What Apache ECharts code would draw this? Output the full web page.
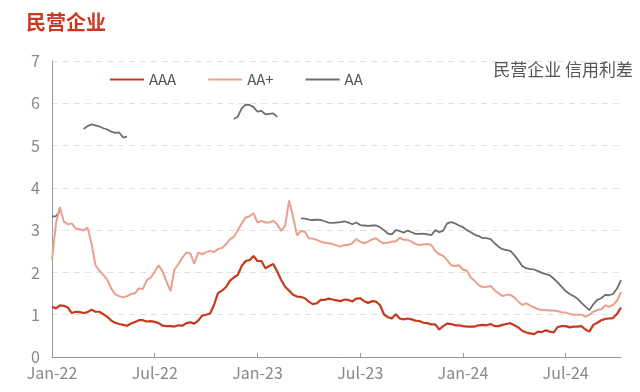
<!DOCTYPE html>
<html>
<head>
<meta charset="utf-8">
<script src="https://cdn.jsdelivr.net/npm/echarts@6/dist/echarts.min.js"></script>
<style>html,body{margin:0;padding:0;background:#fff}#c{width:640px;height:392px}</style>
</head>
<body>
<div id="c"></div>
<script>
// Weekly observations starting 2022-01-01
const startDate = '2022-01-01';
const xTickIndex = [0, 26, 52, 78, 104, 130];
const xTickLabels = ['Jan-22', 'Jul-22', 'Jan-23', 'Jul-23', 'Jan-24', 'Jul-24'];
const seriesNames = ['AAA', 'AA+', 'AA'];

const aaa = [
  1.19,1.15,1.22,1.21,1.17,1.04,1.07,1.06,1.04,1.06,1.12,1.07,1.07,1.01,0.95,0.86,0.81,0.78,0.76,0.74,
  0.79,0.83,0.87,0.87,0.84,0.85,0.83,0.80,0.74,0.73,0.73,0.72,0.75,0.74,0.80,0.82,0.79,0.86,0.98,1.00,
  1.03,1.23,1.51,1.57,1.65,1.80,1.88,1.94,2.15,2.27,2.29,2.39,2.27,2.27,2.10,2.15,2.20,2.02,1.82,1.66,
  1.57,1.47,1.43,1.42,1.39,1.31,1.25,1.27,1.35,1.35,1.38,1.36,1.34,1.32,1.36,1.35,1.31,1.38,1.39,1.32,
  1.28,1.32,1.31,1.23,1.01,0.94,0.91,1.01,0.91,0.89,0.91,0.89,0.86,0.85,0.81,0.80,0.77,0.77,0.65,0.73,
  0.79,0.78,0.75,0.75,0.73,0.72,0.72,0.72,0.75,0.76,0.75,0.78,0.73,0.73,0.76,0.78,0.80,0.75,0.70,0.62,
  0.58,0.56,0.54,0.60,0.59,0.63,0.60,0.58,0.71,0.73,0.73,0.70,0.72,0.72,0.73,0.65,0.60,0.76,0.81,0.87,
  0.90,0.91,0.92,1.02,1.17
];
const aaPlus = [
  2.29,3.16,3.55,3.20,3.14,3.16,3.04,3.02,2.99,3.06,2.69,2.17,2.04,1.94,1.82,1.62,1.48,1.44,1.41,1.44,
  1.49,1.51,1.62,1.61,1.82,1.88,2.02,2.17,2.02,1.78,1.56,2.07,2.20,2.35,2.47,2.45,2.21,2.47,2.43,2.48,
  2.51,2.48,2.55,2.58,2.66,2.78,2.84,2.99,3.16,3.30,3.33,3.40,3.18,3.22,3.18,3.18,3.22,3.14,2.98,3.10,
  3.70,3.32,2.88,2.98,2.96,2.81,2.80,2.77,2.73,2.70,2.69,2.67,2.64,2.61,2.65,2.65,2.69,2.79,2.73,2.69,
  2.73,2.78,2.81,2.73,2.69,2.70,2.73,2.73,2.82,2.77,2.77,2.73,2.67,2.65,2.66,2.67,2.65,2.51,2.43,2.39,
  2.29,2.17,2.15,2.17,2.07,2.04,1.88,1.80,1.70,1.65,1.66,1.68,1.58,1.51,1.44,1.47,1.47,1.41,1.31,1.23,
  1.27,1.22,1.17,1.13,1.11,1.11,1.10,1.10,1.08,1.06,1.05,1.02,1.00,1.00,1.00,0.95,1.00,1.07,1.11,1.13,
  1.22,1.19,1.23,1.33,1.54
];
const aa = [
  3.32,3.33,3.45,null,null,null,null,null,5.39,5.46,5.50,5.48,5.45,5.41,5.38,5.33,5.30,5.31,5.19,5.21,
  null,null,null,null,null,null,null,null,null,null,null,null,null,null,null,null,null,null,null,null,
  null,null,null,null,null,null,5.63,5.68,5.88,5.97,5.96,5.91,5.80,5.82,5.74,5.75,5.76,5.68,null,null,
  null,null,null,3.28,3.27,3.25,3.24,3.25,3.24,3.21,3.18,3.17,3.18,3.19,3.21,3.18,3.14,3.18,3.12,3.11,
  3.10,3.11,3.11,3.07,3.00,2.92,2.90,3.00,2.98,2.94,2.99,2.95,2.91,2.91,2.92,2.90,2.88,3.00,2.95,2.99,
  3.16,3.19,3.16,3.11,3.07,3.00,2.95,2.89,2.86,2.81,2.81,2.79,2.69,2.61,2.55,2.53,2.51,2.41,2.29,2.15,
  2.10,2.08,2.07,2.03,1.99,1.96,1.93,1.85,1.76,1.66,1.56,1.49,1.44,1.38,1.28,1.19,1.11,1.25,1.35,1.39,
  1.47,1.46,1.49,1.62,1.82
];

const t0 = Date.parse(startDate + 'T00:00:00Z');
const dates = aaa.map(function (_, i) {
  return new Date(t0 + i * 7 * 86400000).toISOString().slice(0, 10);
});
const showTick = function (idx) { return xTickIndex.indexOf(idx) >= 0; };
const FONT = '"Noto Sans CJK SC", "Noto Sans", sans-serif';

const chart = echarts.init(document.getElementById('c'), null, {renderer: 'canvas'});
chart.setOption({
  animation: false,
  backgroundColor: '#ffffff',
  textStyle: {fontFamily: FONT},
  title: [
    {text: '民营企业', left: 26, top: 12, padding: 0,
     textStyle: {color: '#C8391E', fontSize: 20, fontWeight: 'bold', fontFamily: FONT}},
    {text: '民营企业 信用利差', right: 7, top: 61, padding: 0,
     textStyle: {color: '#555555', fontSize: 17, fontWeight: 'normal', fontFamily: FONT}}
  ],
  legend: {
    left: 110, top: 72, padding: 0,
    icon: 'rect', itemWidth: 34, itemHeight: 2, itemGap: 32,
    textStyle: {color: '#555555', fontSize: 15, fontFamily: FONT, padding: [0, 0, 0, 0]},
    data: seriesNames
  },
  grid: {left: 52, right: 19, top: 61, bottom: 35, containLabel: false},
  xAxis: {
    type: 'category',
    data: dates,
    boundaryGap: false,
    axisLine: {show: true, lineStyle: {color: '#999999', width: 1}},
    axisTick: {show: true, inside: true, length: 4, interval: showTick, lineStyle: {color: '#999999'}},
    axisLabel: {
      interval: showTick,
      color: '#888888', fontSize: 16, margin: 8, fontFamily: FONT,
      formatter: function (v, idx) { return xTickLabels[xTickIndex.indexOf(idx)] || ''; }
    },
    splitLine: {show: false}
  },
  yAxis: {
    type: 'value',
    min: 0, max: 7, interval: 1,
    axisLine: {show: true, lineStyle: {color: '#999999', width: 1}},
    axisTick: {show: false},
    axisLabel: {color: '#888888', fontSize: 16, margin: 12, fontFamily: FONT},
    splitLine: {show: true, lineStyle: {color: '#e2e2e2', type: [6, 5], width: 1}}
  },
  series: [
    {name: seriesNames[0], type: 'line', data: aaa, symbol: 'none', connectNulls: false,
     lineStyle: {color: '#C63A1C', width: 2.2}, itemStyle: {color: '#C63A1C'}, z: 4},
    {name: seriesNames[1], type: 'line', data: aaPlus, symbol: 'none', connectNulls: false,
     lineStyle: {color: '#E9A08E', width: 2}, itemStyle: {color: '#E9A08E'}, z: 3},
    {name: seriesNames[2], type: 'line', data: aa, symbol: 'none', connectNulls: false,
     lineStyle: {color: '#6E6E6E', width: 1.8}, itemStyle: {color: '#6E6E6E'}, z: 2}
  ]
});
</script>
</body>
</html>
